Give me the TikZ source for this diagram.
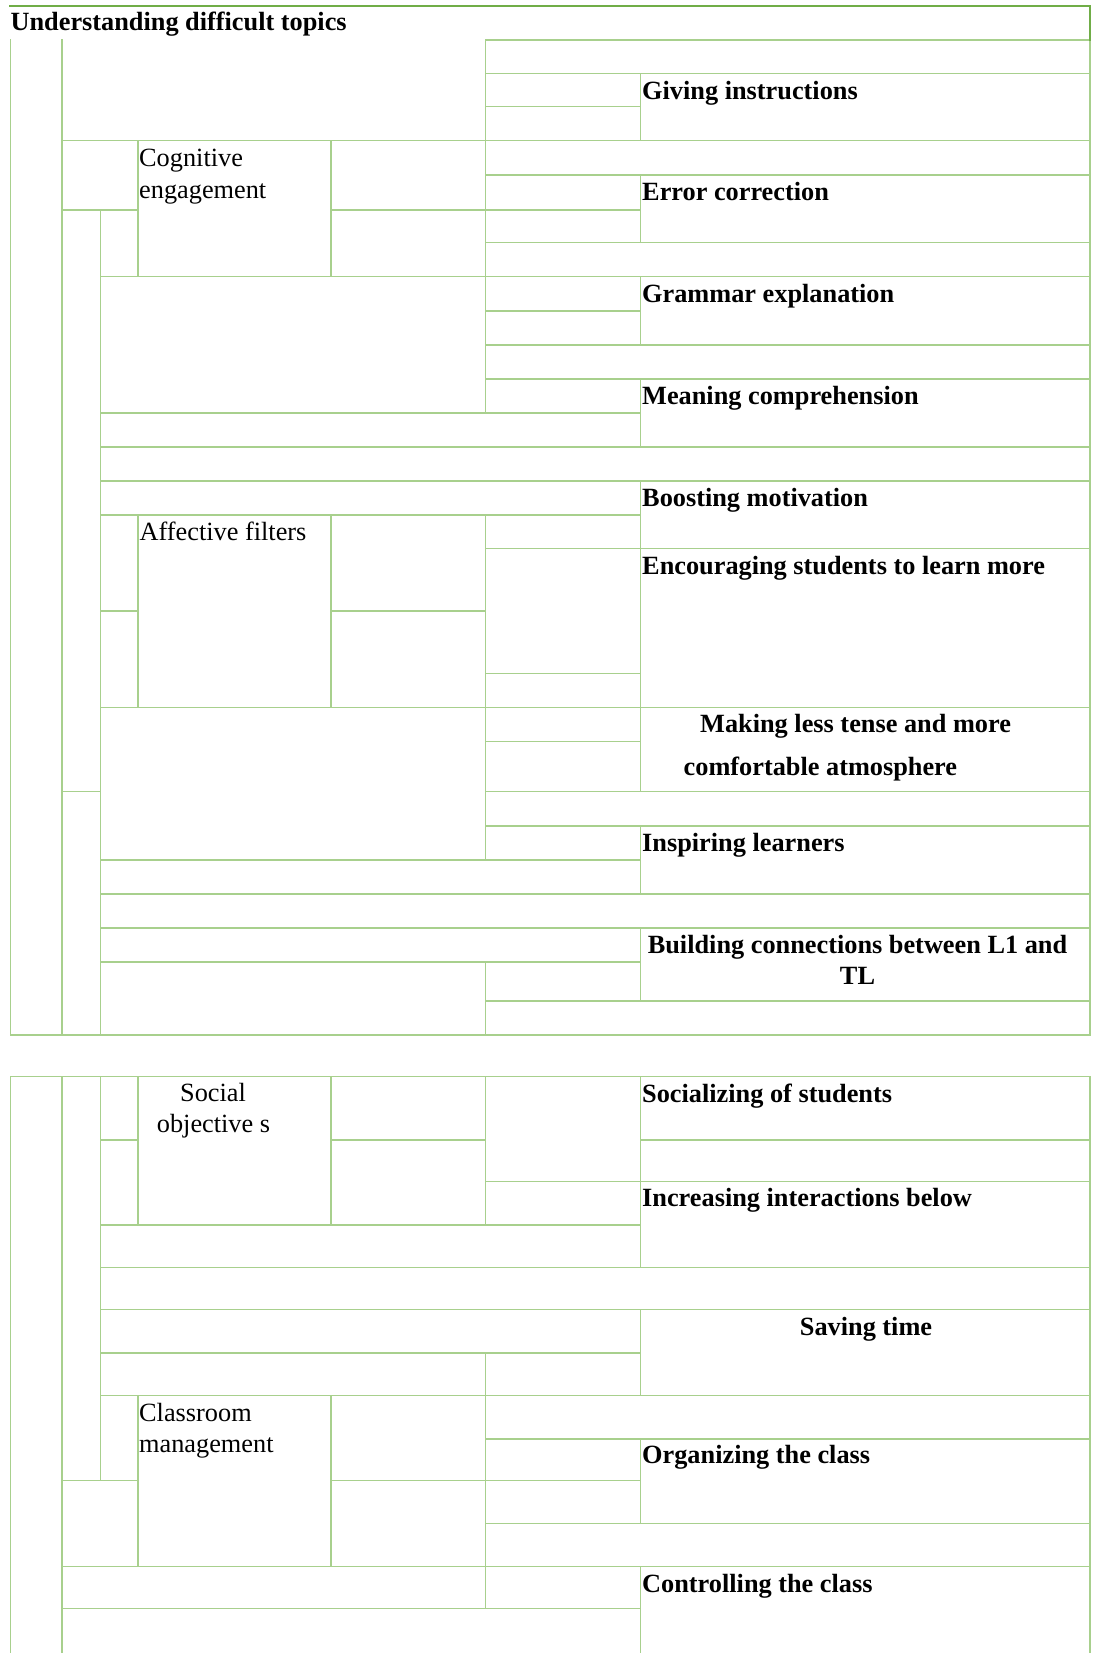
\documentclass[tikz,border=0pt]{standalone}
\usepackage{fontspec}
\setmainfont{Liberation Serif}
\definecolor{lg}{HTML}{A8D08D}
\definecolor{dg}{HTML}{70AD47}
\newcommand\hseg[3]{\draw[gl] (#2,#1) -- (#3,#1);}
\newcommand\vseg[3]{\draw[gl] (#1,#2) -- (#1,#3);}
\begin{document}
\begin{tikzpicture}[x=1pt,y=-1pt,
  gl/.style={draw=lg,line width=1.5pt,line cap=rect},
  dl/.style={draw=dg,line width=2.2pt,line cap=rect},
  lbl/.style={anchor=base west,inner sep=0pt,font=\fontsize{26.3}{31.5}\selectfont\bfseries},
  clbl/.style={anchor=base,inner sep=0pt,font=\fontsize{26.3}{31.5}\selectfont\bfseries},
  sub/.style={anchor=base west,inner sep=0pt,font=\fontsize{26.3}{31.5}\selectfont},
  csub/.style={anchor=base,inner sep=0pt,font=\fontsize{26.3}{31.5}\selectfont}]
\useasboundingbox[fill=white] (0,0) rectangle (1092,1653);
% ---------- table 1 : horizontals ----------
\hseg{40}{485.7}{1090}
\hseg{73.3}{485.7}{1090}
\hseg{106.7}{485.7}{640.7}
\hseg{140.7}{62}{1090}
\hseg{175}{485.7}{1090}
\hseg{210}{62}{138}
\hseg{210}{330.8}{640.7}
\hseg{242.7}{485.7}{1090}
\hseg{276.7}{100.3}{1090}
\hseg{311}{485.7}{640.7}
\hseg{345}{485.7}{1090}
\hseg{379}{485.7}{1090}
\hseg{413}{100.3}{640.7}
\hseg{447}{100.3}{1090}
\hseg{481}{100.3}{1090}
\hseg{515}{100.3}{640.7}
\hseg{548.3}{485.7}{1090}
\hseg{611}{100.3}{138}
\hseg{611}{330.8}{485.7}
\hseg{673.3}{485.7}{640.7}
\hseg{707.7}{100.3}{1090}
\hseg{741.7}{485.7}{640.7}
\hseg{791.7}{62}{100.3}
\hseg{791.7}{485.7}{1090}
\hseg{826}{485.7}{1090}
\hseg{860}{100.3}{640.7}
\hseg{894}{100.3}{1090}
\hseg{928}{100.3}{1090}
\hseg{962}{100.3}{640.7}
\hseg{1001}{485.7}{1090}
\hseg{1035}{10.4}{1090}
% ---------- table 1 : verticals ----------
\vseg{10.4}{40}{1035}
\vseg{62}{40}{1035}
\vseg{100.3}{210}{1035}
\vseg{138}{140.7}{276.7}
\vseg{138}{515}{707.7}
\vseg{330.8}{140.7}{276.7}
\vseg{330.8}{515}{707.7}
\vseg{485.7}{40}{413}
\vseg{485.7}{515}{860}
\vseg{485.7}{962}{1035}
\vseg{640.7}{73.3}{140.7}
\vseg{640.7}{175}{242.7}
\vseg{640.7}{276.7}{345}
\vseg{640.7}{379}{447}
\vseg{640.7}{481}{791.7}
\vseg{640.7}{826}{894}
\vseg{640.7}{928}{1001}
\vseg{1090}{40}{1035}
% top rule
\draw[dl] (10.4,6) -- (1090,6) -- (1090,40);
% ---------- table 2 : horizontals ----------
\hseg{1076.7}{10.4}{1090}
\hseg{1140}{100.3}{138}
\hseg{1140}{330.8}{485.7}
\hseg{1140}{640.7}{1090}
\hseg{1181.7}{485.7}{1090}
\hseg{1225}{100.3}{640.7}
\hseg{1267.7}{100.3}{1090}
\hseg{1309.7}{100.3}{1090}
\hseg{1353}{100.3}{640.7}
\hseg{1395.7}{100.3}{1090}
\hseg{1439}{485.7}{1090}
\hseg{1480.7}{62}{138}
\hseg{1480.7}{330.8}{640.7}
\hseg{1523.7}{485.7}{1090}
\hseg{1566.3}{62}{1090}
\hseg{1608.7}{62}{640.7}
% ---------- table 2 : verticals ----------
\vseg{10.4}{1076.7}{1653}
\vseg{62}{1076.7}{1653}
\vseg{100.3}{1076.7}{1480.7}
\vseg{138}{1076.7}{1225}
\vseg{138}{1395.7}{1566.3}
\vseg{330.8}{1076.7}{1225}
\vseg{330.8}{1395.7}{1566.3}
\vseg{485.7}{1076.7}{1225}
\vseg{485.7}{1353}{1608.7}
\vseg{640.7}{1076.7}{1267.7}
\vseg{640.7}{1309.7}{1395.7}
\vseg{640.7}{1439}{1523.7}
\vseg{640.7}{1566.3}{1653}
\vseg{1090}{1076.7}{1653}
% ---------- texts ----------
\node[lbl] (title) at (10.4,30.7) {Understanding difficult topics};
\node[sub] (cogA) at (139,166.7) {Cognitive};
\node[sub] (cogB) at (139,198.3) {engagement};
\node[sub] (aff) at (139.5,540) {Affective filters};
\node[lbl] (giv) at (642,99.3) {Giving instructions};
\node[lbl] (err) at (642,201) {Error correction};
\node[lbl] (gra) at (642,302.7) {Grammar explanation};
\node[lbl] (mea) at (642,404.3) {Meaning comprehension};
\node[lbl] (boo) at (642,506.7) {Boosting motivation};
\node[lbl] (enc) at (642,574.3) {Encouraging students to learn more};
\node[lbl] (makA) at (700,732.7) {Making less tense and more};
\node[lbl] (makB) at (683.5,775) {comfortable atmosphere};
\node[lbl] (ins) at (642,851.7) {Inspiring learners};
\node[clbl] (bldA) at (857.5,953.3) {Building connections between L1 and};
\node[clbl] (bldB) at (857.5,984) {TL};
\node[csub] (socA) at (213,1101.7) {Social};
\node[csub] (socB) at (213.5,1132.7) {objective s};
\node[lbl] (scl) at (642,1102.7) {Socializing of students};
\node[lbl] (inc) at (642,1206.7) {Increasing interactions below};
\node[clbl] (sav) at (866,1335.7) {Saving time};
\node[sub] (clsA) at (139,1421.3) {Classroom};
\node[sub] (clsB) at (139,1452) {management};
\node[lbl] (org) at (642,1463.7) {Organizing the class};
\node[lbl] (con) at (642,1592) {Controlling the class};
\end{tikzpicture}
\end{document}
